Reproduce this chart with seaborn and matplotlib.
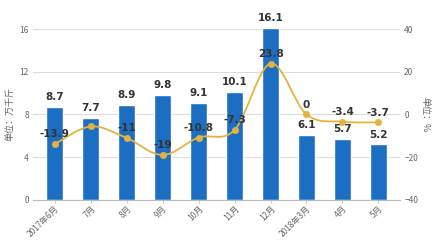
import numpy as np
import pandas as pd
import matplotlib
matplotlib.use("Agg")
import matplotlib.pyplot as plt
from matplotlib.path import Path
from matplotlib.patches import PathPatch
import seaborn as sns

months = ["2017年6月", "7月", "8月", "9月", "10月", "11月", "12月", "2018年3月", "4月", "5月"]
output = [8.7, 7.7, 8.9, 9.8, 9.1, 10.1, 16.1, 6.1, 5.7, 5.2]
growth = [-13.9, -5.6, -11, -19, -10.8, -7.3, 23.8, 0, -3.4, -3.7]
growth_labels = ["-13.9", "", "-11", "-19", "-10.8", "-7.3", "23.8", "0", "-3.4", "-3.7"]
left_ticks = [0, 4, 8, 12, 16]
right_ticks = [-40, -20, 0, 20, 40]

sns.set_theme(style="white")
plt.rcParams["font.family"] = ["Noto Sans CJK SC", "DejaVu Sans"]

BLUE = "#1b6ec2"
GOLD = "#e4b33e"
GRID = "#dcdcdc"
TXT = "#333333"
TICK = "#666666"

df = pd.DataFrame({"month": months, "output": output, "growth": growth})

fig = plt.figure(figsize=(4.42, 2.42), dpi=100)
ax = fig.add_axes([0.075, 0.174, 0.83, 0.706])

sns.barplot(data=df, x="month", y="output", color=BLUE, width=0.48,
            saturation=1, ax=ax, zorder=2)
ax.set_ylim(0, 16)
ax.set_yticks(left_ticks)
ax.set_xlim(-0.6, 9.6)
ax.grid(axis="y", color=GRID, linewidth=0.8, zorder=0)
ax.set_axisbelow(True)
for s in ["top", "right", "left"]:
    ax.spines[s].set_visible(False)
ax.spines["bottom"].set_color("#bbbbbb")
ax.spines["bottom"].set_linewidth(0.8)
ax.tick_params(axis="y", labelsize=6, colors=TICK, length=0, pad=3)
ax.tick_params(axis="x", labelsize=6, colors=TICK, length=2, width=0.6,
               color="#bbbbbb", pad=1, bottom=True)
for lab in ax.get_xticklabels():
    lab.set_rotation(45)
    lab.set_ha("right")
    lab.set_rotation_mode("anchor")
ax.set_xlabel("")
ax.set_ylabel("单位：万千斤", fontsize=6.5, color=TICK, labelpad=4)

for i, v in enumerate(output):
    ax.text(i, v + 0.45, f"{v:g}", ha="center", va="bottom", fontsize=7.5,
            fontweight="semibold", color=TXT, family="DejaVu Sans", zorder=5)

ax2 = ax.twinx()
ax2.set_ylim(-40, 40)
ax2.set_yticks(right_ticks)
for s in ["top", "right", "left", "bottom"]:
    ax2.spines[s].set_visible(False)
ax2.tick_params(axis="y", labelsize=6, colors=TICK, length=0, pad=3)
ax2.set_ylabel("单位：%", fontsize=6.5, color=TICK, rotation=-90, labelpad=8)

# smooth curve through the growth points (Catmull-Rom as cubic Bezier segments)
xs = np.arange(len(growth), dtype=float)
ys = np.asarray(growth, dtype=float)
px = np.concatenate([[xs[0]], xs, [xs[-1]]])
py = np.concatenate([[ys[0]], ys, [ys[-1]]])
verts = [(xs[0], ys[0])]
codes = [Path.MOVETO]
t = 0.5 / 3
for k in range(1, len(px) - 2):
    c1 = (px[k] + (px[k + 1] - px[k - 1]) * t, py[k] + (py[k + 1] - py[k - 1]) * t)
    c2 = (px[k + 1] - (px[k + 2] - px[k]) * t, py[k + 1] - (py[k + 2] - py[k]) * t)
    verts += [c1, c2, (px[k + 1], py[k + 1])]
    codes += [Path.CURVE4] * 3
ax2.add_patch(PathPatch(Path(verts, codes), facecolor="none", edgecolor=GOLD,
                        linewidth=1.3, zorder=3))
sns.scatterplot(x=xs, y=ys, color=GOLD, s=22, edgecolor=GOLD, ax=ax2, zorder=4)

for i, (v, lab) in enumerate(zip(growth, growth_labels)):
    if lab:
        ax2.text(i, v + 2.2, lab, ha="center", va="bottom", fontsize=7.5,
                 fontweight="semibold", color=TXT, family="DejaVu Sans", zorder=5)

fig.savefig("out.png", dpi=100)
